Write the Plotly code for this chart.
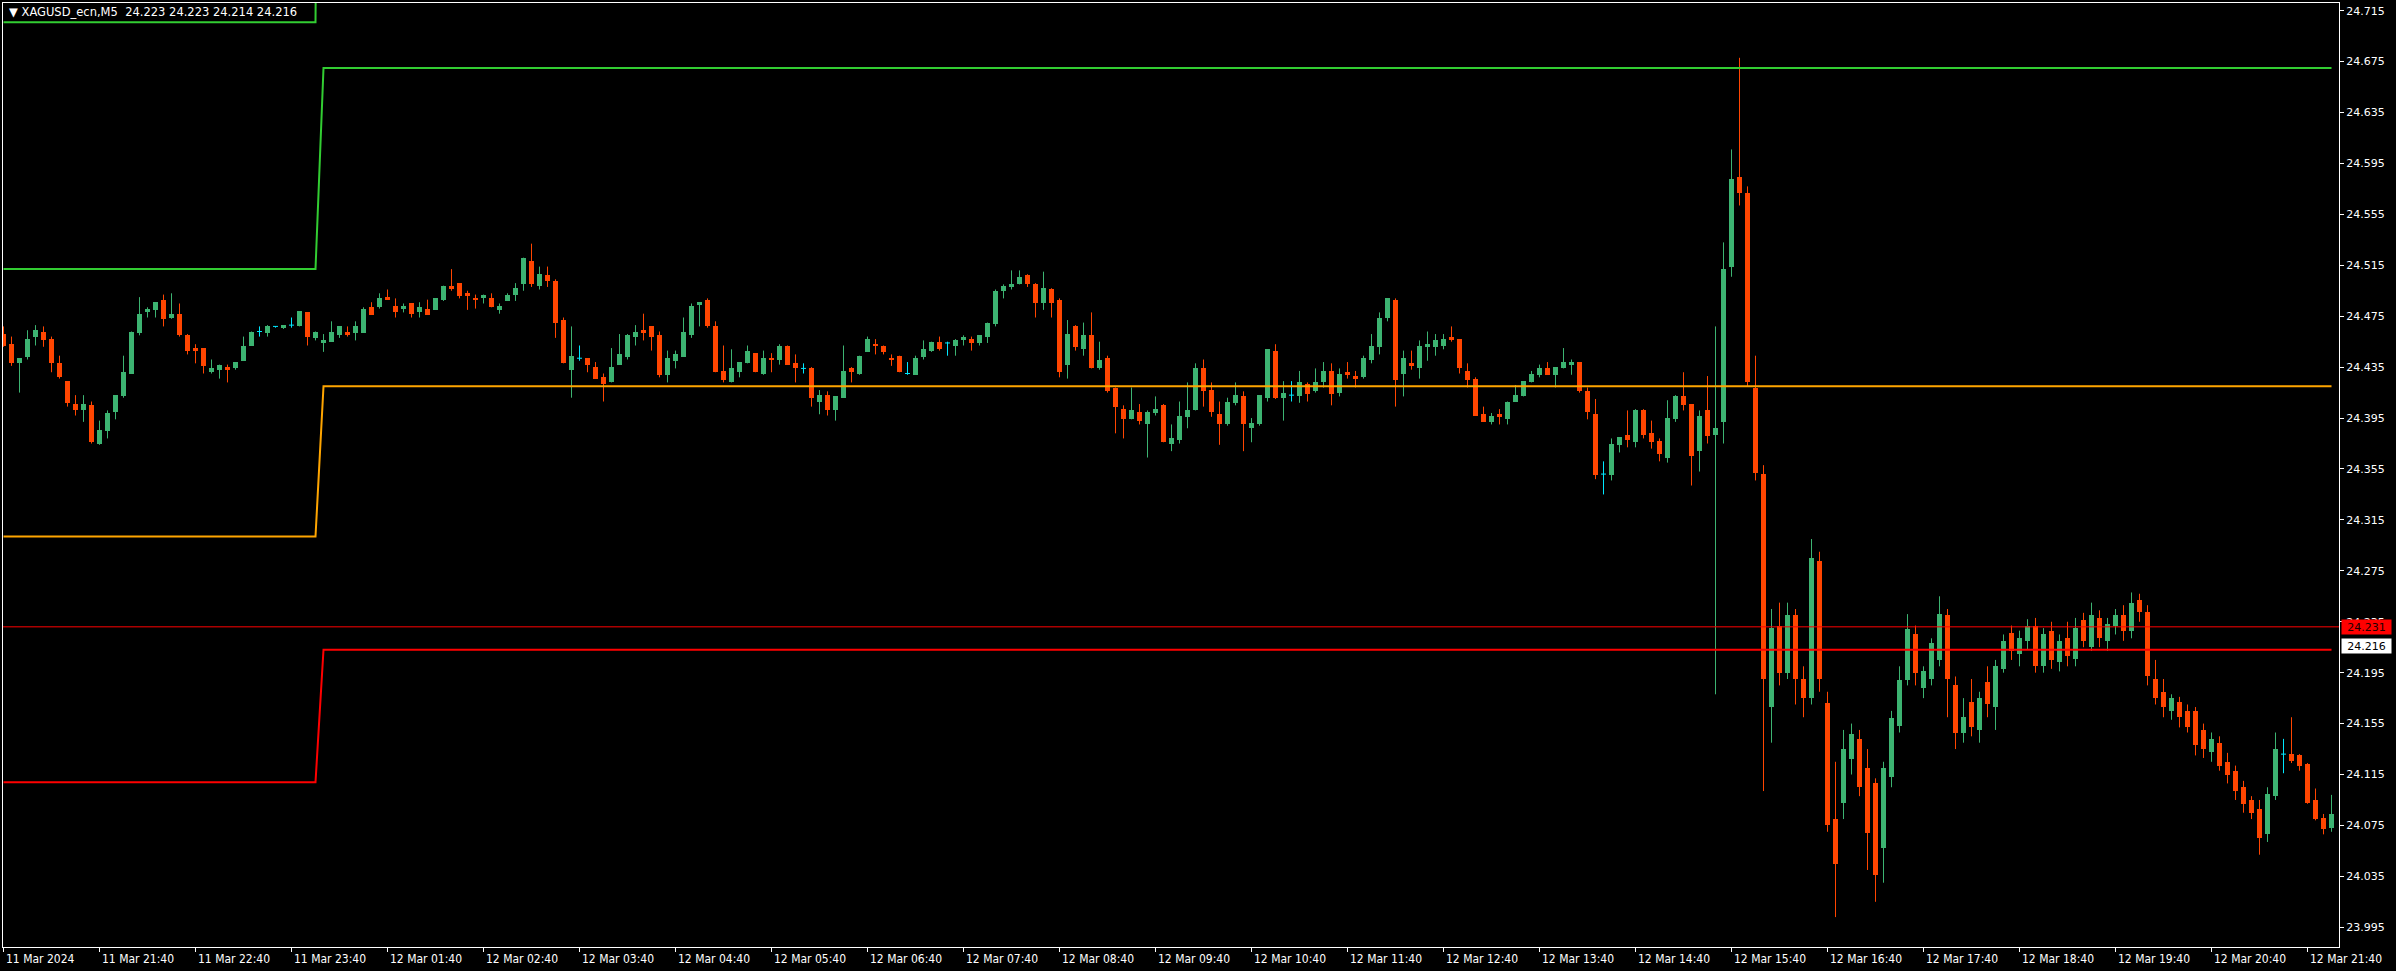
import plotly.graph_objects as go

# ---------------- data ----------------
opens = [24.461,24.453,24.438,24.443,24.459,24.463,24.457,24.438,24.424,24.406,
         24.401,24.405,24.375,24.385,24.400,24.412,24.430,24.462,24.478,24.480,
         24.488,24.474,24.477,24.460,24.450,24.450,24.431,24.433,24.435,24.434,
         24.440,24.452,24.463,24.462,24.467,24.466,24.468,24.467,24.478,24.458,
         24.454,24.455,24.460,24.463,24.462,24.462,24.482,24.482,24.490,24.483,
         24.481,24.485,24.478,24.481,24.480,24.488,24.499,24.501,24.493,24.489,
         24.489,24.489,24.480,24.487,24.492,24.500,24.518,24.499,24.507,24.503,
         24.472,24.433,24.442,24.442,24.435,24.427,24.423,24.437,24.443,24.459,
         24.464,24.467,24.460,24.429,24.440,24.443,24.460,24.484,24.488,24.467,
         24.432,24.423,24.431,24.438,24.446,24.430,24.442,24.441,24.452,24.438,
         24.434,24.434,24.408,24.413,24.401,24.411,24.434,24.430,24.447,24.453,
         24.452,24.442,24.444,24.430,24.429,24.443,24.448,24.455,24.454,24.452,
         24.456,24.457,24.454,24.459,24.469,24.495,24.498,24.500,24.507,24.500,
         24.485,24.496,24.488,24.437,24.467,24.449,24.460,24.434,24.442,24.419,
         24.402,24.394,24.400,24.390,24.399,24.405,24.375,24.378,24.396,24.401,
         24.434,24.417,24.398,24.390,24.407,24.412,24.387,24.390,24.411,24.448,
         24.411,24.413,24.412,24.422,24.416,24.423,24.432,24.415,24.431,24.428,
         24.427,24.441,24.451,24.474,24.488,24.430,24.438,24.434,24.451,24.451,
         24.452,24.459,24.457,24.432,24.426,24.398,24.392,24.398,24.394,24.408,
         24.412,24.423,24.429,24.434,24.429,24.434,24.437,24.439,24.416,24.398,
         24.351,24.350,24.374,24.382,24.376,24.401,24.383,24.377,24.364,24.394,
         24.412,24.406,24.369,24.401,24.382,24.392,24.514,24.584,24.572,24.419,
         24.351,24.168,24.232,24.195,24.240,24.190,24.175,24.283,24.171,24.080,
         24.093,24.127,24.143,24.120,24.108,24.057,24.113,24.153,24.189,24.225,
         24.183,24.190,24.205,24.240,24.185,24.148,24.172,24.150,24.188,24.168,
         24.198,24.226,24.210,24.220,24.232,24.200,24.228,24.203,24.222,24.206,
         24.236,24.215,24.238,24.220,24.232,24.240,24.228,24.252,24.243,24.190,
         24.180,24.165,24.172,24.165,24.165,24.150,24.133,24.140,24.125,24.118,
         24.105,24.095,24.088,24.068,24.098,24.131,24.131,24.130,24.123,24.095,
         24.081,24.073]
highs = [24.467,24.459,24.442,24.464,24.468,24.467,24.459,24.444,24.424,24.413,
         24.413,24.408,24.393,24.401,24.413,24.444,24.463,24.490,24.482,24.486,
         24.492,24.493,24.485,24.461,24.453,24.450,24.441,24.437,24.437,24.439,
         24.459,24.463,24.467,24.468,24.467,24.468,24.474,24.479,24.478,24.463,
         24.461,24.471,24.467,24.467,24.471,24.482,24.486,24.493,24.496,24.489,
         24.485,24.485,24.486,24.488,24.489,24.499,24.512,24.501,24.495,24.492,
         24.492,24.493,24.485,24.493,24.501,24.521,24.532,24.514,24.514,24.504,
         24.474,24.467,24.452,24.442,24.439,24.430,24.450,24.461,24.461,24.468,
         24.477,24.467,24.463,24.448,24.448,24.474,24.485,24.486,24.489,24.471,
         24.452,24.449,24.439,24.452,24.446,24.448,24.446,24.453,24.452,24.445,
         24.438,24.435,24.417,24.416,24.412,24.452,24.435,24.444,24.459,24.457,
         24.452,24.445,24.444,24.439,24.444,24.456,24.455,24.459,24.455,24.457,
         24.460,24.459,24.460,24.470,24.496,24.500,24.511,24.511,24.508,24.501,
         24.510,24.497,24.489,24.472,24.468,24.470,24.478,24.455,24.444,24.419,
         24.405,24.419,24.406,24.401,24.412,24.406,24.390,24.408,24.423,24.438,
         24.441,24.423,24.408,24.411,24.423,24.416,24.395,24.413,24.449,24.453,
         24.424,24.424,24.432,24.423,24.434,24.439,24.438,24.434,24.439,24.432,
         24.444,24.461,24.478,24.489,24.489,24.448,24.448,24.456,24.463,24.461,
         24.461,24.467,24.457,24.438,24.427,24.404,24.399,24.402,24.408,24.421,
         24.424,24.432,24.437,24.439,24.435,24.450,24.441,24.439,24.419,24.410,
         24.361,24.379,24.380,24.401,24.402,24.402,24.393,24.379,24.409,24.413,
         24.431,24.406,24.401,24.428,24.467,24.533,24.606,24.678,24.577,24.444,
         24.358,24.245,24.250,24.250,24.245,24.200,24.300,24.290,24.180,24.125,
         24.150,24.155,24.150,24.135,24.112,24.125,24.165,24.200,24.241,24.232,
         24.200,24.222,24.255,24.245,24.192,24.175,24.190,24.180,24.200,24.205,
         24.225,24.232,24.228,24.237,24.238,24.230,24.235,24.225,24.235,24.238,
         24.242,24.250,24.244,24.238,24.245,24.248,24.258,24.257,24.248,24.205,
         24.190,24.178,24.176,24.170,24.168,24.155,24.148,24.145,24.132,24.122,
         24.110,24.098,24.095,24.105,24.148,24.143,24.160,24.131,24.124,24.104,
         24.084,24.099]
lows = [24.451,24.436,24.415,24.441,24.452,24.451,24.431,24.426,24.404,24.397,
        24.392,24.375,24.374,24.379,24.394,24.411,24.430,24.460,24.474,24.474,
        24.467,24.473,24.459,24.445,24.438,24.430,24.430,24.426,24.423,24.433,
        24.440,24.452,24.459,24.459,24.466,24.465,24.466,24.467,24.452,24.456,
        24.447,24.455,24.458,24.459,24.456,24.462,24.476,24.481,24.488,24.474,
        24.478,24.474,24.474,24.476,24.480,24.487,24.495,24.489,24.480,24.481,
        24.485,24.482,24.477,24.487,24.487,24.495,24.498,24.496,24.498,24.458,
        24.438,24.411,24.440,24.431,24.426,24.408,24.423,24.437,24.441,24.452,
        24.456,24.448,24.427,24.423,24.434,24.443,24.458,24.467,24.466,24.431,
        24.423,24.423,24.427,24.438,24.431,24.429,24.431,24.437,24.437,24.423,
        24.430,24.404,24.398,24.397,24.393,24.411,24.423,24.429,24.447,24.445,
        24.445,24.436,24.431,24.429,24.429,24.441,24.447,24.448,24.444,24.444,
        24.452,24.448,24.452,24.454,24.467,24.489,24.496,24.500,24.498,24.474,
        24.480,24.474,24.427,24.426,24.448,24.444,24.434,24.433,24.415,24.383,
        24.379,24.394,24.390,24.364,24.397,24.376,24.369,24.375,24.387,24.401,
        24.404,24.396,24.374,24.389,24.405,24.369,24.376,24.389,24.408,24.410,
        24.393,24.408,24.407,24.408,24.415,24.419,24.405,24.412,24.426,24.419,
        24.426,24.438,24.445,24.471,24.404,24.412,24.433,24.426,24.440,24.444,
        24.449,24.455,24.430,24.419,24.397,24.392,24.390,24.390,24.390,24.408,
        24.412,24.423,24.427,24.429,24.419,24.434,24.429,24.415,24.394,24.347,
        24.335,24.346,24.368,24.372,24.372,24.379,24.371,24.361,24.360,24.392,
        24.401,24.342,24.353,24.375,24.178,24.375,24.506,24.562,24.420,24.346,
        24.102,24.140,24.185,24.190,24.170,24.160,24.170,24.180,24.070,24.003,
        24.080,24.115,24.098,24.040,24.015,24.030,24.105,24.148,24.185,24.185,
        24.175,24.185,24.200,24.160,24.135,24.140,24.145,24.140,24.160,24.150,
        24.195,24.205,24.200,24.213,24.195,24.195,24.198,24.196,24.200,24.200,
        24.215,24.212,24.215,24.212,24.225,24.220,24.222,24.235,24.185,24.170,
        24.160,24.158,24.152,24.148,24.130,24.128,24.125,24.118,24.108,24.095,
        24.085,24.080,24.052,24.062,24.095,24.116,24.124,24.118,24.092,24.079,
        24.068,24.070]
closes = [24.452,24.438,24.442,24.457,24.464,24.456,24.438,24.427,24.407,24.401,
          24.406,24.376,24.386,24.399,24.413,24.431,24.463,24.477,24.481,24.486,
          24.473,24.477,24.460,24.448,24.448,24.436,24.434,24.437,24.433,24.439,
          24.452,24.463,24.463,24.467,24.467,24.468,24.468,24.479,24.459,24.463,
          24.456,24.463,24.467,24.460,24.467,24.481,24.476,24.489,24.488,24.478,
          24.483,24.477,24.482,24.476,24.489,24.499,24.496,24.491,24.491,24.488,
          24.492,24.482,24.483,24.492,24.497,24.521,24.500,24.508,24.503,24.470,
          24.438,24.444,24.442,24.437,24.426,24.422,24.435,24.445,24.460,24.463,
          24.462,24.459,24.429,24.442,24.445,24.463,24.483,24.486,24.467,24.431,
          24.425,24.434,24.439,24.448,24.431,24.442,24.441,24.452,24.437,24.434,
          24.434,24.411,24.413,24.401,24.412,24.432,24.431,24.444,24.457,24.452,
          24.447,24.441,24.431,24.430,24.442,24.449,24.455,24.449,24.454,24.456,
          24.459,24.454,24.460,24.470,24.495,24.499,24.500,24.506,24.500,24.485,
          24.497,24.485,24.431,24.461,24.451,24.460,24.434,24.441,24.416,24.404,
          24.394,24.401,24.393,24.400,24.402,24.376,24.379,24.397,24.401,24.434,
          24.416,24.400,24.390,24.408,24.413,24.390,24.391,24.413,24.449,24.411,
          24.415,24.413,24.423,24.414,24.423,24.432,24.414,24.430,24.429,24.426,
          24.442,24.452,24.474,24.489,24.425,24.442,24.436,24.452,24.453,24.456,
          24.457,24.456,24.434,24.425,24.397,24.392,24.397,24.396,24.408,24.413,
          24.424,24.430,24.434,24.429,24.435,24.439,24.439,24.416,24.400,24.350,
          24.351,24.375,24.380,24.378,24.401,24.382,24.376,24.367,24.395,24.412,
          24.405,24.365,24.397,24.381,24.387,24.512,24.583,24.572,24.423,24.352,
          24.190,24.230,24.195,24.240,24.190,24.175,24.285,24.190,24.075,24.045,
          24.135,24.147,24.105,24.069,24.036,24.120,24.159,24.189,24.229,24.195,
          24.196,24.218,24.241,24.190,24.148,24.160,24.152,24.175,24.170,24.200,
          24.220,24.212,24.222,24.232,24.200,24.225,24.205,24.220,24.208,24.230,
          24.220,24.240,24.222,24.233,24.240,24.228,24.250,24.243,24.192,24.175,
          24.168,24.175,24.160,24.152,24.138,24.135,24.143,24.122,24.115,24.102,
          24.092,24.085,24.065,24.100,24.135,24.131,24.126,24.122,24.093,24.080,
          24.072,24.084]

day_switch = 40                   # first bar of 12 Mar (01:00)

# indicator levels: (previous day, current day)
level_top = (24.706, 25.600)
level_high = (24.512, 24.670)
level_mid = (24.302, 24.420)
level_low = (24.109, 24.213)

ask_price = 24.231
bid_label = 24.216

tick_idx = [0, 12, 24, 36, 48, 60, 72, 84, 96, 108, 120, 132, 144, 156, 168,
            180, 192, 204, 216, 228, 240, 252, 264, 276, 288]
tick_labels = ["11 Mar 2024", "11 Mar 21:40", "11 Mar 22:40", "11 Mar 23:40",
               "12 Mar 01:40", "12 Mar 02:40", "12 Mar 03:40", "12 Mar 04:40",
               "12 Mar 05:40", "12 Mar 06:40", "12 Mar 07:40", "12 Mar 08:40",
               "12 Mar 09:40", "12 Mar 10:40", "12 Mar 11:40", "12 Mar 12:40",
               "12 Mar 13:40", "12 Mar 14:40", "12 Mar 15:40", "12 Mar 16:40",
               "12 Mar 17:40", "12 Mar 18:40", "12 Mar 19:40", "12 Mar 20:40",
               "12 Mar 21:40"]
price_ticks = ["23.995", "24.035", "24.075", "24.115", "24.155", "24.195",
               "24.235", "24.275", "24.315", "24.355", "24.395", "24.435",
               "24.475", "24.515", "24.555", "24.595", "24.635", "24.675",
               "24.715"]
title_text = "XAGUSD_ecn,M5\u00a0\u00a024.223 24.223 24.214 24.216"

# ---------------- styling ----------------
UP = "#3CB371"
DN = "#FF4500"
DOJI = "#00E8FF"
BODY_W = 0.625
FONT = "DejaVu Sans"
NARROW = "Liberation Sans Narrow, DejaVu Sans Condensed, Arial Narrow, sans-serif"

n_bars = len(opens)
idx = list(range(n_bars))
up = [i for i in idx if closes[i] > opens[i]]
dn = [i for i in idx if closes[i] < opens[i]]
dj = [i for i in idx if closes[i] == opens[i]]

fig = go.Figure()


def wick_trace(ids, color):
    xs, ys = [], []
    for i in ids:
        xs += [i, i, None]
        ys += [lows[i], highs[i], None]
    return go.Scatter(x=xs, y=ys, mode="lines", line=dict(color=color, width=1),
                      hoverinfo="skip")


def body_trace(ids, color):
    return go.Bar(x=ids,
                  base=[min(opens[i], closes[i]) for i in ids],
                  y=[abs(closes[i] - opens[i]) for i in ids],
                  width=BODY_W, marker=dict(color=color, line=dict(width=0)),
                  hoverinfo="skip")


fig.add_trace(wick_trace(up, UP))
fig.add_trace(wick_trace(dn, DN))
fig.add_trace(wick_trace(dj, DOJI))
fig.add_trace(body_trace(up, UP))
fig.add_trace(body_trace(dn, DN))
dx, dy = [], []
for i in dj:
    dx += [i - BODY_W / 2, i + BODY_W / 2, None]
    dy += [opens[i], opens[i], None]
fig.add_trace(go.Scatter(x=dx, y=dy, mode="lines", line=dict(color=DOJI, width=1),
                         hoverinfo="skip"))

# indicator levels
for lev, col in [(level_top, "#32CD32"), (level_high, "#32CD32"),
                 (level_mid, "#FFA500"), (level_low, "#FF0000")]:
    ys = [lev[0] if i < day_switch else lev[1] for i in idx]
    fig.add_trace(go.Scatter(x=idx, y=ys, mode="lines",
                             line=dict(color=col, width=2), hoverinfo="skip"))

# ask line
fig.add_shape(type="line", xref="paper", x0=0, x1=1, yref="y", y0=ask_price,
              y1=ask_price, line=dict(color="#FF0000", width=1), layer="above")

annotations = []
for ti, tl in zip(tick_idx, tick_labels):
    annotations.append(dict(x=ti, xref="x", y=0, yref="paper", yshift=-12,
                            xanchor="left", yanchor="middle", showarrow=False,
                            text=tl, font=dict(family=NARROW, size=12, color="white")))
annotations.append(dict(x=1, xref="paper", xshift=2, y=ask_price, yref="y",
                        xanchor="left", yanchor="middle", showarrow=False,
                        text="%.3f" % ask_price, width=47, height=12, borderpad=1,
                        bgcolor="#FF0000", font=dict(family=FONT, size=11, color="#200000")))
annotations.append(dict(x=1, xref="paper", xshift=2, y=bid_label, yref="y",
                        xanchor="left", yanchor="middle", showarrow=False,
                        text="%.3f" % bid_label, width=47, height=12, borderpad=1,
                        bgcolor="#FFFFFF", font=dict(family=FONT, size=11, color="black")))
annotations.append(dict(x=0, xref="paper", xshift=4, y=1, yref="paper", yshift=-9,
                        xanchor="left", yanchor="middle", showarrow=False,
                        text="\u25BC " + title_text,
                        font=dict(family=FONT, size=11.5, color="white")))

fig.update_layout(
    width=2396, height=971,
    margin=dict(l=3, r=57, t=3, b=24, pad=0),
    paper_bgcolor="black", plot_bgcolor="black",
    showlegend=False, barmode="overlay", bargap=0,
    annotations=annotations,
)
fig.update_xaxes(range=[-0.0625, 291.9375], showgrid=False, zeroline=False,
                 showline=True, linecolor="white", linewidth=1, mirror=True,
                 tickvals=tick_idx, ticks="outside", ticklen=4, tickcolor="white",
                 showticklabels=False, fixedrange=True)
fig.update_yaxes(range=[23.9795, 24.72105], side="right", showgrid=False,
                 zeroline=False, showline=True, linecolor="white", linewidth=1,
                 mirror=True, tickvals=[float(t) for t in price_ticks],
                 ticktext=price_ticks, ticks="outside", ticklen=4,
                 tickcolor="white", tickfont=dict(family=FONT, size=11, color="white"),
                 fixedrange=True)

fig.write_html("out.html",
               config={"displayModeBar": False, "staticPlot": True},
               post_script="document.body.style.margin='0';"
                           "document.body.style.overflow='hidden';")
